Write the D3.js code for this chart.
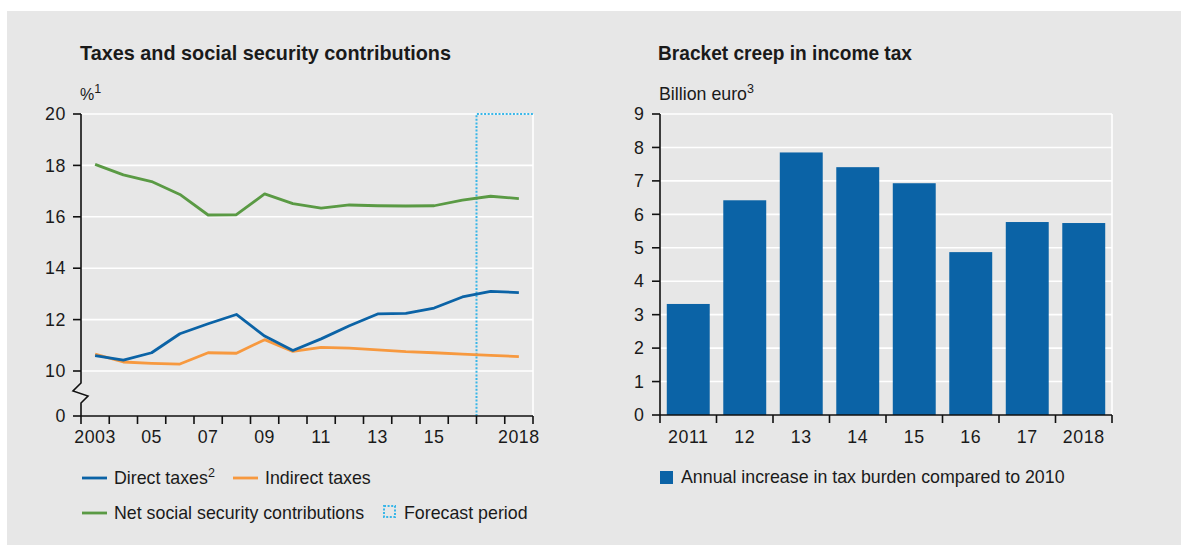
<!DOCTYPE html>
<html>
<head>
<meta charset="utf-8">
<script src="https://cdn.jsdelivr.net/npm/d3@7/dist/d3.min.js"></script>
<style>
  html, body { margin: 0; padding: 0; background: #ffffff; }
  svg { display: block; }
  text { font-family: "Liberation Sans", Arial, sans-serif; fill: #1a1a1a; }
</style>
</head>
<body>
<svg id="chart" width="1181" height="547"></svg>
<script>
// ---- Data: taxes and social security contributions (% of GDP) ----
const lineYears = ["2003","2004","2005","2006","2007","2008","2009","2010",
                   "2011","2012","2013","2014","2015","2016","2017","2018"];
const directTaxes   = [10.60, 10.42, 10.71, 11.45, 11.84, 12.20, 11.36, 10.80,
                       11.25, 11.76, 12.22, 12.24, 12.45, 12.88, 13.10, 13.05];
const indirectTaxes = [10.66, 10.35, 10.30, 10.27, 10.71, 10.69, 11.22, 10.76,
                       10.92, 10.89, 10.82, 10.75, 10.71, 10.66, 10.61, 10.56];
const socialContrib = [18.04, 17.63, 17.37, 16.87, 16.07, 16.08, 16.89, 16.51,
                       16.34, 16.46, 16.43, 16.42, 16.43, 16.65, 16.80, 16.71];
const lineTickYears  = ["2003","2005","2007","2009","2011","2013","2015","2018"];
const lineTickLabels = ["2003","05","07","09","11","13","15","2018"];
const lineYTicks = [0, 10, 12, 14, 16, 18, 20];
const forecastFrom = "2017";

// ---- Data: bracket creep in income tax (billion euro) ----
const barYears  = ["2011","2012","2013","2014","2015","2016","2017","2018"];
const barLabels = ["2011","12","13","14","15","16","17","2018"];
const bracketCreep = [3.32, 6.42, 7.85, 7.41, 6.93, 4.87, 5.77, 5.74];
const barYTicks = [0, 1, 2, 3, 4, 5, 6, 7, 8, 9];

// ---- Styles ----
const COL = {
  bg: "#e7e7e7",
  blue: "#0b63a6",
  orange: "#f7993f",
  green: "#5a9a44",
  forecast: "#38b6e8",
  axis: "#111111"
};
const FONT = 17.8;

const svg = d3.select("#chart");
svg.append("rect").attr("x", 7).attr("y", 11).attr("width", 1174).attr("height", 534)
   .attr("fill", COL.bg);

function superText(sel, main, sup) {
  sel.append("tspan").text(main);
  sel.append("tspan").text(sup).attr("font-size", 12.5).attr("dy", -7);
}

// ================= Left panel: line chart =================
const L = { x0: 81, x1: 533, yTop: 114, yBot: 416 };

svg.append("text").attr("x", 80).attr("y", 60)
   .attr("font-size", 21).attr("font-weight", "bold")
   .attr("textLength", 371).attr("lengthAdjust", "spacingAndGlyphs")
   .text("Taxes and social security contributions");
superText(svg.append("text").attr("x", 80).attr("y", 100).attr("font-size", 16), "%", "1");

const xL = d3.scaleBand().domain(lineYears).range([L.x0, L.x1]).padding(0);
// broken axis: the range 0..10 is compressed below the break
const yL = d3.scaleLinear().domain([0, 10, 20]).range([L.yBot, 371, L.yTop]);

const gL = svg.append("g");
// grid lines
gL.selectAll("line.grid").data(lineYTicks.filter(d => d > 0)).join("line")
  .attr("x1", L.x0).attr("x2", L.x1)
  .attr("y1", d => yL(d)).attr("y2", d => yL(d))
  .attr("stroke", "#ffffff").attr("stroke-width", 1.6);
gL.append("line").attr("x1", L.x1).attr("x2", L.x1)
  .attr("y1", L.yTop).attr("y2", L.yBot)
  .attr("stroke", "#ffffff").attr("stroke-width", 1.6);

// forecast period frame
const fx = xL(forecastFrom);
gL.append("path")
  .attr("d", `M${fx},${L.yBot}V${L.yTop}H${L.x1}`)
  .attr("fill", "none").attr("stroke", COL.forecast)
  .attr("stroke-width", 2).attr("stroke-dasharray", "2,1.6");

// series lines
const series = [
  { values: socialContrib, color: COL.green },
  { values: indirectTaxes, color: COL.orange },
  { values: directTaxes, color: COL.blue }
];
const lineGen = d3.line()
  .x((d, i) => xL(lineYears[i]) + xL.bandwidth() / 2)
  .y(d => yL(d));
gL.selectAll("path.series").data(series).join("path")
  .attr("class", "series")
  .attr("d", d => lineGen(d.values))
  .attr("fill", "none").attr("stroke", d => d.color)
  .attr("stroke-width", 2.8).attr("stroke-linejoin", "round");

// y axis with break symbol
const yb = yL(10) + 12;
gL.append("path")
  .attr("d", `M${L.x0},${L.yTop}V${yb}L${L.x0 - 8},${yb + 8}L${L.x0 + 7},${yb + 13}L${L.x0},${yb + 20}V${L.yBot}`)
  .attr("fill", "none").attr("stroke", COL.axis).attr("stroke-width", 1.6);
gL.selectAll("line.ytick").data(lineYTicks).join("line")
  .attr("x1", L.x0 - 8).attr("x2", L.x0)
  .attr("y1", d => yL(d)).attr("y2", d => yL(d))
  .attr("stroke", COL.axis).attr("stroke-width", 1.6);
gL.selectAll("text.ylab").data(lineYTicks).join("text")
  .attr("x", L.x0 - 15).attr("y", d => yL(d)).attr("dy", "0.35em")
  .attr("text-anchor", "end").attr("font-size", FONT)
  .attr("letter-spacing", 0.6)
  .text(d => d);

// x axis: ticks at band edges, labels at band centres
gL.append("line").attr("x1", L.x0).attr("x2", L.x1)
  .attr("y1", L.yBot).attr("y2", L.yBot)
  .attr("stroke", COL.axis).attr("stroke-width", 1.6);
const edgesL = lineYears.map(d => xL(d)).concat([L.x1]);
gL.selectAll("line.xtick").data(edgesL).join("line")
  .attr("x1", d => d).attr("x2", d => d)
  .attr("y1", L.yBot).attr("y2", L.yBot + 8)
  .attr("stroke", COL.axis).attr("stroke-width", 1.6);
gL.selectAll("text.xlab").data(lineTickYears).join("text")
  .attr("x", d => xL(d) + xL.bandwidth() / 2).attr("y", 443)
  .attr("text-anchor", "middle").attr("font-size", FONT)
  .attr("letter-spacing", 0.6)
  .text((d, i) => lineTickLabels[i]);

// legend
const legL = svg.append("g");
const legItems = [
  { x: 82, y: 478, color: COL.blue, label: "Direct taxes", sup: "2" },
  { x: 233, y: 478, color: COL.orange, label: "Indirect taxes" },
  { x: 82, y: 513, color: COL.green, label: "Net social security contributions" }
];
legItems.forEach(it => {
  legL.append("line").attr("x1", it.x).attr("x2", it.x + 25)
    .attr("y1", it.y).attr("y2", it.y)
    .attr("stroke", it.color).attr("stroke-width", 2.8);
  const t = legL.append("text").attr("x", it.x + 32).attr("y", it.y + 6)
    .attr("font-size", FONT);
  if (it.sup) superText(t, it.label, it.sup); else t.text(it.label);
});
legL.append("rect").attr("x", 384).attr("y", 506).attr("width", 11).attr("height", 11)
  .attr("fill", "none").attr("stroke", COL.forecast)
  .attr("stroke-width", 2).attr("stroke-dasharray", "2,1.6");
legL.append("text").attr("x", 404).attr("y", 519).attr("font-size", FONT)
  .text("Forecast period");

// ================= Right panel: bar chart =================
const R = { x0: 660, x1: 1112, yTop: 114, yBot: 415 };

svg.append("text").attr("x", 658).attr("y", 60)
   .attr("font-size", 21).attr("font-weight", "bold")
   .attr("textLength", 254).attr("lengthAdjust", "spacingAndGlyphs")
   .text("Bracket creep in income tax");
superText(svg.append("text").attr("x", 659).attr("y", 100).attr("font-size", FONT), "Billion euro", "3");

const xR = d3.scaleBand().domain(barYears).range([R.x0, R.x1])
  .paddingInner(0.24).paddingOuter(0.12);
const yR = d3.scaleLinear().domain([0, 9]).range([R.yBot, R.yTop]);

const gR = svg.append("g");
gR.selectAll("line.grid").data(barYTicks.filter(d => d > 0)).join("line")
  .attr("x1", R.x0).attr("x2", R.x1)
  .attr("y1", d => yR(d)).attr("y2", d => yR(d))
  .attr("stroke", "#ffffff").attr("stroke-width", 1.6);
gR.append("line").attr("x1", R.x1).attr("x2", R.x1)
  .attr("y1", R.yTop).attr("y2", R.yBot)
  .attr("stroke", "#ffffff").attr("stroke-width", 1.6);

gR.selectAll("rect.bar").data(bracketCreep).join("rect")
  .attr("x", (d, i) => xR(barYears[i]))
  .attr("width", xR.bandwidth())
  .attr("y", d => yR(d))
  .attr("height", d => yR(0) - yR(d))
  .attr("fill", COL.blue);

gR.append("line").attr("x1", R.x0).attr("x2", R.x0)
  .attr("y1", R.yTop).attr("y2", R.yBot)
  .attr("stroke", COL.axis).attr("stroke-width", 1.6);
gR.selectAll("line.ytick").data(barYTicks).join("line")
  .attr("x1", R.x0 - 8).attr("x2", R.x0)
  .attr("y1", d => yR(d)).attr("y2", d => yR(d))
  .attr("stroke", COL.axis).attr("stroke-width", 1.6);
gR.selectAll("text.ylab").data(barYTicks).join("text")
  .attr("x", R.x0 - 16).attr("y", d => yR(d)).attr("dy", "0.35em")
  .attr("text-anchor", "end").attr("font-size", FONT)
  .text(d => d);

gR.append("line").attr("x1", R.x0).attr("x2", R.x1)
  .attr("y1", R.yBot).attr("y2", R.yBot)
  .attr("stroke", COL.axis).attr("stroke-width", 1.6);
const stepR = xR.step();
const edgesR = barYears.map(d => xR(d) - stepR * xR.paddingInner() / 2).concat([R.x1]);
edgesR[0] = R.x0;
gR.selectAll("line.xtick").data(edgesR).join("line")
  .attr("x1", d => d).attr("x2", d => d)
  .attr("y1", R.yBot).attr("y2", R.yBot + 8)
  .attr("stroke", COL.axis).attr("stroke-width", 1.6);
gR.selectAll("text.xlab").data(barYears).join("text")
  .attr("x", d => xR(d) + xR.bandwidth() / 2).attr("y", 443)
  .attr("text-anchor", "middle").attr("font-size", FONT)
  .attr("letter-spacing", 0.6)
  .text((d, i) => barLabels[i]);

// legend
svg.append("rect").attr("x", 660).attr("y", 471).attr("width", 13).attr("height", 13)
  .attr("fill", COL.blue);
svg.append("text").attr("x", 681).attr("y", 483).attr("font-size", FONT)
  .text("Annual increase in tax burden compared to 2010");
</script>
</body>
</html>
